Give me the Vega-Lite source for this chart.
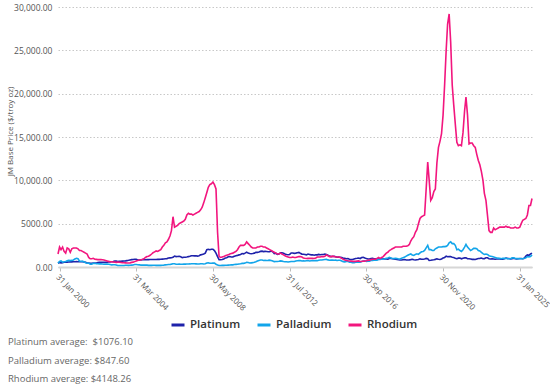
{
"$schema": "https://vega.github.io/schema/vega-lite/v6.json",
"width": 474,
"height": 260,
"autosize": {"type": "none"},
"padding": {"left": 58, "top": 7, "right": 18, "bottom": 123},
"config": {"font": "Open Sans", "view": {"stroke": null}},
"data": {"values": [
{"d":"2000-01","Platinum":440,"Palladium":450,"Rhodium":1500},
{"d":"2000-02","Platinum":520,"Palladium":650,"Rhodium":2300},
{"d":"2000-03","Platinum":480,"Palladium":700,"Rhodium":2000},
{"d":"2000-04","Platinum":500,"Palladium":570,"Rhodium":2300},
{"d":"2000-05","Platinum":540,"Palladium":600,"Rhodium":1800},
{"d":"2000-06","Platinum":560,"Palladium":640,"Rhodium":1600},
{"d":"2000-07","Platinum":560,"Palladium":720,"Rhodium":2200},
{"d":"2000-08","Platinum":570,"Palladium":760,"Rhodium":2100},
{"d":"2000-09","Platinum":590,"Palladium":740,"Rhodium":1700},
{"d":"2000-10","Platinum":590,"Palladium":760,"Rhodium":2100},
{"d":"2000-11","Platinum":600,"Palladium":820,"Rhodium":2200},
{"d":"2000-12","Platinum":610,"Palladium":920,"Rhodium":2200},
{"d":"2001-01","Platinum":620,"Palladium":1000,"Rhodium":2200},
{"d":"2001-02","Platinum":600,"Palladium":950,"Rhodium":2100},
{"d":"2001-03","Platinum":600,"Palladium":700,"Rhodium":1900},
{"d":"2001-04","Platinum":600,"Palladium":660,"Rhodium":1900},
{"d":"2001-05","Platinum":620,"Palladium":650,"Rhodium":1800},
{"d":"2001-06","Platinum":580,"Palladium":600,"Rhodium":1700},
{"d":"2001-07","Platinum":540,"Palladium":500,"Rhodium":1600},
{"d":"2001-08","Platinum":460,"Palladium":440,"Rhodium":1500},
{"d":"2001-09","Platinum":450,"Palladium":450,"Rhodium":1100},
{"d":"2001-10","Platinum":440,"Palladium":320,"Rhodium":950},
{"d":"2001-11","Platinum":430,"Palladium":330,"Rhodium":950},
{"d":"2001-12","Platinum":460,"Palladium":420,"Rhodium":1000},
{"d":"2002-01","Platinum":470,"Palladium":430,"Rhodium":900},
{"d":"2002-02","Platinum":470,"Palladium":380,"Rhodium":880},
{"d":"2002-03","Platinum":510,"Palladium":380,"Rhodium":850},
{"d":"2002-04","Platinum":540,"Palladium":360,"Rhodium":860},
{"d":"2002-05","Platinum":530,"Palladium":370,"Rhodium":850},
{"d":"2002-06","Platinum":540,"Palladium":340,"Rhodium":830},
{"d":"2002-07","Platinum":530,"Palladium":320,"Rhodium":800},
{"d":"2002-08","Platinum":540,"Palladium":330,"Rhodium":750},
{"d":"2002-09","Platinum":540,"Palladium":330,"Rhodium":700},
{"d":"2002-10","Platinum":570,"Palladium":320,"Rhodium":650},
{"d":"2002-11","Platinum":590,"Palladium":280,"Rhodium":620},
{"d":"2002-12","Platinum":600,"Palladium":240,"Rhodium":600},
{"d":"2003-01","Platinum":620,"Palladium":260,"Rhodium":570},
{"d":"2003-02","Platinum":680,"Palladium":260,"Rhodium":560},
{"d":"2003-03","Platinum":680,"Palladium":240,"Rhodium":540},
{"d":"2003-04","Platinum":630,"Palladium":170,"Rhodium":560},
{"d":"2003-05","Platinum":650,"Palladium":170,"Rhodium":540},
{"d":"2003-06","Platinum":660,"Palladium":170,"Rhodium":520},
{"d":"2003-07","Platinum":680,"Palladium":170,"Rhodium":500},
{"d":"2003-08","Platinum":700,"Palladium":180,"Rhodium":490},
{"d":"2003-09","Platinum":710,"Palladium":200,"Rhodium":480},
{"d":"2003-10","Platinum":740,"Palladium":200,"Rhodium":460},
{"d":"2003-11","Platinum":770,"Palladium":190,"Rhodium":470},
{"d":"2003-12","Platinum":810,"Palladium":200,"Rhodium":480},
{"d":"2004-01","Platinum":850,"Palladium":220,"Rhodium":530},
{"d":"2004-02","Platinum":860,"Palladium":230,"Rhodium":560},
{"d":"2004-03","Platinum":900,"Palladium":280,"Rhodium":620},
{"d":"2004-04","Platinum":900,"Palladium":290,"Rhodium":700},
{"d":"2004-05","Platinum":800,"Palladium":260,"Rhodium":760},
{"d":"2004-06","Platinum":800,"Palladium":250,"Rhodium":800},
{"d":"2004-07","Platinum":800,"Palladium":220,"Rhodium":800},
{"d":"2004-08","Platinum":850,"Palladium":220,"Rhodium":880},
{"d":"2004-09","Platinum":840,"Palladium":220,"Rhodium":950},
{"d":"2004-10","Platinum":840,"Palladium":220,"Rhodium":1100},
{"d":"2004-11","Platinum":850,"Palladium":220,"Rhodium":1200},
{"d":"2004-12","Platinum":850,"Palladium":185,"Rhodium":1250},
{"d":"2005-01","Platinum":860,"Palladium":185,"Rhodium":1350},
{"d":"2005-02","Platinum":870,"Palladium":185,"Rhodium":1500},
{"d":"2005-03","Platinum":870,"Palladium":200,"Rhodium":1650},
{"d":"2005-04","Platinum":870,"Palladium":200,"Rhodium":1750},
{"d":"2005-05","Platinum":870,"Palladium":190,"Rhodium":1850},
{"d":"2005-06","Platinum":880,"Palladium":185,"Rhodium":1800},
{"d":"2005-07","Platinum":880,"Palladium":185,"Rhodium":1900},
{"d":"2005-08","Platinum":890,"Palladium":185,"Rhodium":2000},
{"d":"2005-09","Platinum":910,"Palladium":195,"Rhodium":2300},
{"d":"2005-10","Platinum":930,"Palladium":215,"Rhodium":2500},
{"d":"2005-11","Platinum":960,"Palladium":250,"Rhodium":2800},
{"d":"2005-12","Platinum":970,"Palladium":260,"Rhodium":2900},
{"d":"2006-01","Platinum":1030,"Palladium":280,"Rhodium":3200},
{"d":"2006-02","Platinum":1050,"Palladium":290,"Rhodium":3600},
{"d":"2006-03","Platinum":1060,"Palladium":330,"Rhodium":4200},
{"d":"2006-04","Platinum":1110,"Palladium":380,"Rhodium":5800},
{"d":"2006-05","Platinum":1260,"Palladium":380,"Rhodium":4600},
{"d":"2006-06","Platinum":1200,"Palladium":320,"Rhodium":4700},
{"d":"2006-07","Platinum":1220,"Palladium":320,"Rhodium":4800},
{"d":"2006-08","Platinum":1230,"Palladium":340,"Rhodium":5000},
{"d":"2006-09","Platinum":1180,"Palladium":320,"Rhodium":5100},
{"d":"2006-10","Platinum":1080,"Palladium":320,"Rhodium":5200},
{"d":"2006-11","Platinum":1130,"Palladium":330,"Rhodium":5300},
{"d":"2006-12","Platinum":1130,"Palladium":330,"Rhodium":5500},
{"d":"2007-01","Platinum":1150,"Palladium":340,"Rhodium":6000},
{"d":"2007-02","Platinum":1200,"Palladium":350,"Rhodium":6200},
{"d":"2007-03","Platinum":1240,"Palladium":355,"Rhodium":6100},
{"d":"2007-04","Platinum":1300,"Palladium":375,"Rhodium":6100},
{"d":"2007-05","Platinum":1300,"Palladium":370,"Rhodium":6000},
{"d":"2007-06","Platinum":1280,"Palladium":370,"Rhodium":6100},
{"d":"2007-07","Platinum":1300,"Palladium":360,"Rhodium":6200},
{"d":"2007-08","Platinum":1260,"Palladium":340,"Rhodium":6300},
{"d":"2007-09","Platinum":1300,"Palladium":340,"Rhodium":6400},
{"d":"2007-10","Platinum":1400,"Palladium":370,"Rhodium":6600},
{"d":"2007-11","Platinum":1450,"Palladium":370,"Rhodium":6900},
{"d":"2007-12","Platinum":1500,"Palladium":350,"Rhodium":7400},
{"d":"2008-01","Platinum":1600,"Palladium":370,"Rhodium":8000},
{"d":"2008-02","Platinum":2000,"Palladium":460,"Rhodium":8600},
{"d":"2008-03","Platinum":2050,"Palladium":480,"Rhodium":9200},
{"d":"2008-04","Platinum":2000,"Palladium":440,"Rhodium":9500},
{"d":"2008-05","Platinum":2050,"Palladium":440,"Rhodium":9600},
{"d":"2008-06","Platinum":2050,"Palladium":460,"Rhodium":9800},
{"d":"2008-07","Platinum":1900,"Palladium":450,"Rhodium":9500},
{"d":"2008-08","Platinum":1600,"Palladium":320,"Rhodium":9000},
{"d":"2008-09","Platinum":1200,"Palladium":230,"Rhodium":4000},
{"d":"2008-10","Platinum":850,"Palladium":190,"Rhodium":1200},
{"d":"2008-11","Platinum":840,"Palladium":180,"Rhodium":1100},
{"d":"2008-12","Platinum":860,"Palladium":190,"Rhodium":1150},
{"d":"2009-01","Platinum":930,"Palladium":190,"Rhodium":1200},
{"d":"2009-02","Platinum":1030,"Palladium":200,"Rhodium":1300},
{"d":"2009-03","Platinum":1080,"Palladium":210,"Rhodium":1350},
{"d":"2009-04","Platinum":1180,"Palladium":220,"Rhodium":1400},
{"d":"2009-05","Platinum":1200,"Palladium":230,"Rhodium":1500},
{"d":"2009-06","Platinum":1150,"Palladium":250,"Rhodium":1550},
{"d":"2009-07","Platinum":1170,"Palladium":250,"Rhodium":1600},
{"d":"2009-08","Platinum":1240,"Palladium":280,"Rhodium":1700},
{"d":"2009-09","Platinum":1300,"Palladium":300,"Rhodium":1800},
{"d":"2009-10","Platinum":1340,"Palladium":320,"Rhodium":2000},
{"d":"2009-11","Platinum":1400,"Palladium":350,"Rhodium":2300},
{"d":"2009-12","Platinum":1450,"Palladium":380,"Rhodium":2500},
{"d":"2010-01","Platinum":1550,"Palladium":420,"Rhodium":2500},
{"d":"2010-02","Platinum":1520,"Palladium":420,"Rhodium":2500},
{"d":"2010-03","Platinum":1600,"Palladium":450,"Rhodium":2600},
{"d":"2010-04","Platinum":1720,"Palladium":540,"Rhodium":2900},
{"d":"2010-05","Platinum":1600,"Palladium":510,"Rhodium":2700},
{"d":"2010-06","Platinum":1550,"Palladium":460,"Rhodium":2500},
{"d":"2010-07","Platinum":1530,"Palladium":480,"Rhodium":2300},
{"d":"2010-08","Platinum":1550,"Palladium":500,"Rhodium":2200},
{"d":"2010-09","Platinum":1600,"Palladium":540,"Rhodium":2200},
{"d":"2010-10","Platinum":1690,"Palladium":600,"Rhodium":2200},
{"d":"2010-11","Platinum":1690,"Palladium":690,"Rhodium":2300},
{"d":"2010-12","Platinum":1730,"Palladium":750,"Rhodium":2300},
{"d":"2011-01","Platinum":1800,"Palladium":800,"Rhodium":2400},
{"d":"2011-02","Platinum":1830,"Palladium":810,"Rhodium":2400},
{"d":"2011-03","Platinum":1780,"Palladium":750,"Rhodium":2300},
{"d":"2011-04","Platinum":1800,"Palladium":760,"Rhodium":2300},
{"d":"2011-05","Platinum":1780,"Palladium":750,"Rhodium":2200},
{"d":"2011-06","Platinum":1760,"Palladium":760,"Rhodium":2100},
{"d":"2011-07","Platinum":1760,"Palladium":790,"Rhodium":2000},
{"d":"2011-08","Platinum":1850,"Palladium":760,"Rhodium":1900},
{"d":"2011-09","Platinum":1750,"Palladium":700,"Rhodium":1800},
{"d":"2011-10","Platinum":1550,"Palladium":620,"Rhodium":1700},
{"d":"2011-11","Platinum":1600,"Palladium":630,"Rhodium":1600},
{"d":"2011-12","Platinum":1450,"Palladium":640,"Rhodium":1500},
{"d":"2012-01","Platinum":1500,"Palladium":660,"Rhodium":1500},
{"d":"2012-02","Platinum":1650,"Palladium":700,"Rhodium":1600},
{"d":"2012-03","Platinum":1650,"Palladium":680,"Rhodium":1500},
{"d":"2012-04","Platinum":1580,"Palladium":630,"Rhodium":1400},
{"d":"2012-05","Platinum":1500,"Palladium":610,"Rhodium":1300},
{"d":"2012-06","Platinum":1450,"Palladium":610,"Rhodium":1200},
{"d":"2012-07","Platinum":1420,"Palladium":580,"Rhodium":1150},
{"d":"2012-08","Platinum":1450,"Palladium":610,"Rhodium":1100},
{"d":"2012-09","Platinum":1620,"Palladium":640,"Rhodium":1100},
{"d":"2012-10","Platinum":1620,"Palladium":630,"Rhodium":1150},
{"d":"2012-11","Platinum":1570,"Palladium":630,"Rhodium":1100},
{"d":"2012-12","Platinum":1600,"Palladium":690,"Rhodium":1100},
{"d":"2013-01","Platinum":1650,"Palladium":720,"Rhodium":1150},
{"d":"2013-02","Platinum":1680,"Palladium":740,"Rhodium":1200},
{"d":"2013-03","Platinum":1580,"Palladium":750,"Rhodium":1200},
{"d":"2013-04","Platinum":1490,"Palladium":700,"Rhodium":1150},
{"d":"2013-05","Platinum":1480,"Palladium":720,"Rhodium":1050},
{"d":"2013-06","Platinum":1450,"Palladium":700,"Rhodium":1000},
{"d":"2013-07","Platinum":1400,"Palladium":720,"Rhodium":980},
{"d":"2013-08","Platinum":1500,"Palladium":740,"Rhodium":1000},
{"d":"2013-09","Platinum":1450,"Palladium":700,"Rhodium":1000},
{"d":"2013-10","Platinum":1400,"Palladium":720,"Rhodium":1000},
{"d":"2013-11","Platinum":1420,"Palladium":730,"Rhodium":1000},
{"d":"2013-12","Platinum":1360,"Palladium":720,"Rhodium":980},
{"d":"2014-01","Platinum":1420,"Palladium":740,"Rhodium":1050},
{"d":"2014-02","Platinum":1400,"Palladium":730,"Rhodium":1150},
{"d":"2014-03","Platinum":1450,"Palladium":770,"Rhodium":1150},
{"d":"2014-04","Platinum":1420,"Palladium":800,"Rhodium":1150},
{"d":"2014-05","Platinum":1450,"Palladium":810,"Rhodium":1200},
{"d":"2014-06","Platinum":1450,"Palladium":840,"Rhodium":1200},
{"d":"2014-07","Platinum":1490,"Palladium":860,"Rhodium":1250},
{"d":"2014-08","Platinum":1430,"Palladium":880,"Rhodium":1400},
{"d":"2014-09","Platinum":1360,"Palladium":820,"Rhodium":1300},
{"d":"2014-10","Platinum":1260,"Palladium":780,"Rhodium":1200},
{"d":"2014-11","Platinum":1200,"Palladium":790,"Rhodium":1200},
{"d":"2014-12","Platinum":1210,"Palladium":800,"Rhodium":1250},
{"d":"2015-01","Platinum":1240,"Palladium":780,"Rhodium":1200},
{"d":"2015-02","Platinum":1190,"Palladium":790,"Rhodium":1150},
{"d":"2015-03","Platinum":1130,"Palladium":750,"Rhodium":1150},
{"d":"2015-04","Platinum":1150,"Palladium":780,"Rhodium":1150},
{"d":"2015-05","Platinum":1130,"Palladium":780,"Rhodium":1100},
{"d":"2015-06","Platinum":1090,"Palladium":700,"Rhodium":1000},
{"d":"2015-07","Platinum":1000,"Palladium":620,"Rhodium":900},
{"d":"2015-08","Platinum":990,"Palladium":590,"Rhodium":820},
{"d":"2015-09","Platinum":960,"Palladium":630,"Rhodium":750},
{"d":"2015-10","Platinum":980,"Palladium":670,"Rhodium":720},
{"d":"2015-11","Platinum":900,"Palladium":560,"Rhodium":700},
{"d":"2015-12","Platinum":860,"Palladium":550,"Rhodium":680},
{"d":"2016-01","Platinum":860,"Palladium":490,"Rhodium":650},
{"d":"2016-02","Platinum":920,"Palladium":490,"Rhodium":650},
{"d":"2016-03","Platinum":980,"Palladium":560,"Rhodium":650},
{"d":"2016-04","Platinum":1000,"Palladium":560,"Rhodium":680},
{"d":"2016-05","Platinum":1040,"Palladium":570,"Rhodium":700},
{"d":"2016-06","Platinum":980,"Palladium":560,"Rhodium":640},
{"d":"2016-07","Platinum":1090,"Palladium":630,"Rhodium":650},
{"d":"2016-08","Platinum":1120,"Palladium":690,"Rhodium":690},
{"d":"2016-09","Platinum":1040,"Palladium":710,"Rhodium":680},
{"d":"2016-10","Platinum":980,"Palladium":650,"Rhodium":720},
{"d":"2016-11","Platinum":930,"Palladium":680,"Rhodium":770},
{"d":"2016-12","Platinum":920,"Palladium":670,"Rhodium":780},
{"d":"2017-01","Platinum":970,"Palladium":750,"Rhodium":850},
{"d":"2017-02","Platinum":1010,"Palladium":770,"Rhodium":900},
{"d":"2017-03","Platinum":960,"Palladium":780,"Rhodium":900},
{"d":"2017-04","Platinum":950,"Palladium":800,"Rhodium":900},
{"d":"2017-05","Platinum":930,"Palladium":780,"Rhodium":1000},
{"d":"2017-06","Platinum":930,"Palladium":860,"Rhodium":1100},
{"d":"2017-07","Platinum":920,"Palladium":870,"Rhodium":1000},
{"d":"2017-08","Platinum":980,"Palladium":930,"Rhodium":1100},
{"d":"2017-09","Platinum":950,"Palladium":930,"Rhodium":1200},
{"d":"2017-10","Platinum":920,"Palladium":960,"Rhodium":1400},
{"d":"2017-11","Platinum":930,"Palladium":1000,"Rhodium":1600},
{"d":"2017-12","Platinum":910,"Palladium":1030,"Rhodium":1700},
{"d":"2018-01","Platinum":990,"Palladium":1100,"Rhodium":1900},
{"d":"2018-02","Platinum":990,"Palladium":1030,"Rhodium":2000},
{"d":"2018-03","Platinum":960,"Palladium":980,"Rhodium":2100},
{"d":"2018-04","Platinum":930,"Palladium":980,"Rhodium":2200},
{"d":"2018-05","Platinum":900,"Palladium":990,"Rhodium":2300},
{"d":"2018-06","Platinum":880,"Palladium":980,"Rhodium":2300},
{"d":"2018-07","Platinum":830,"Palladium":920,"Rhodium":2300},
{"d":"2018-08","Platinum":800,"Palladium":920,"Rhodium":2300},
{"d":"2018-09","Platinum":800,"Palladium":1000,"Rhodium":2300},
{"d":"2018-10","Platinum":830,"Palladium":1080,"Rhodium":2400},
{"d":"2018-11","Platinum":860,"Palladium":1140,"Rhodium":2400},
{"d":"2018-12","Platinum":800,"Palladium":1250,"Rhodium":2400},
{"d":"2019-01","Platinum":810,"Palladium":1350,"Rhodium":2450},
{"d":"2019-02","Platinum":820,"Palladium":1450,"Rhodium":2600},
{"d":"2019-03","Platinum":850,"Palladium":1500,"Rhodium":3000},
{"d":"2019-04","Platinum":890,"Palladium":1380,"Rhodium":3300},
{"d":"2019-05","Platinum":840,"Palladium":1330,"Rhodium":3500},
{"d":"2019-06","Platinum":810,"Palladium":1450,"Rhodium":4000},
{"d":"2019-07","Platinum":840,"Palladium":1520,"Rhodium":4300},
{"d":"2019-08","Platinum":860,"Palladium":1450,"Rhodium":5000},
{"d":"2019-09","Platinum":940,"Palladium":1620,"Rhodium":5600},
{"d":"2019-10","Platinum":900,"Palladium":1750,"Rhodium":5800},
{"d":"2019-11","Platinum":900,"Palladium":1800,"Rhodium":5900},
{"d":"2019-12","Platinum":930,"Palladium":1900,"Rhodium":6000},
{"d":"2020-01","Platinum":990,"Palladium":2200,"Rhodium":9000},
{"d":"2020-02","Platinum":960,"Palladium":2500,"Rhodium":12100},
{"d":"2020-03","Platinum":750,"Palladium":2000,"Rhodium":10000},
{"d":"2020-04","Platinum":770,"Palladium":2000,"Rhodium":7700},
{"d":"2020-05","Platinum":810,"Palladium":1900,"Rhodium":8000},
{"d":"2020-06","Platinum":830,"Palladium":1900,"Rhodium":8700},
{"d":"2020-07","Platinum":880,"Palladium":2100,"Rhodium":9000},
{"d":"2020-08","Platinum":940,"Palladium":2200,"Rhodium":12000},
{"d":"2020-09","Platinum":900,"Palladium":2300,"Rhodium":13800},
{"d":"2020-10","Platinum":870,"Palladium":2300,"Rhodium":14500},
{"d":"2020-11","Platinum":930,"Palladium":2300,"Rhodium":15400},
{"d":"2020-12","Platinum":1030,"Palladium":2350,"Rhodium":17500},
{"d":"2021-01","Platinum":1100,"Palladium":2350,"Rhodium":21000},
{"d":"2021-02","Platinum":1250,"Palladium":2380,"Rhodium":25000},
{"d":"2021-03","Platinum":1180,"Palladium":2500,"Rhodium":28000},
{"d":"2021-04","Platinum":1200,"Palladium":2800,"Rhodium":29200},
{"d":"2021-05","Platinum":1200,"Palladium":2900,"Rhodium":26000},
{"d":"2021-06","Platinum":1130,"Palladium":2700,"Rhodium":21000},
{"d":"2021-07","Platinum":1100,"Palladium":2700,"Rhodium":18700},
{"d":"2021-08","Platinum":1000,"Palladium":2500,"Rhodium":16500},
{"d":"2021-09","Platinum":960,"Palladium":2000,"Rhodium":14400},
{"d":"2021-10","Platinum":1020,"Palladium":2050,"Rhodium":14000},
{"d":"2021-11","Platinum":1030,"Palladium":1900,"Rhodium":14100},
{"d":"2021-12","Platinum":950,"Palladium":1800,"Rhodium":14000},
{"d":"2022-01","Platinum":1020,"Palladium":2000,"Rhodium":15500},
{"d":"2022-02","Platinum":1050,"Palladium":2300,"Rhodium":18000},
{"d":"2022-03","Platinum":1050,"Palladium":2600,"Rhodium":19600},
{"d":"2022-04","Platinum":950,"Palladium":2300,"Rhodium":17500},
{"d":"2022-05","Platinum":950,"Palladium":2100,"Rhodium":14200},
{"d":"2022-06","Platinum":930,"Palladium":1900,"Rhodium":14300},
{"d":"2022-07","Platinum":880,"Palladium":2000,"Rhodium":14300},
{"d":"2022-08","Platinum":900,"Palladium":2150,"Rhodium":14000},
{"d":"2022-09","Platinum":870,"Palladium":2150,"Rhodium":13800},
{"d":"2022-10","Platinum":930,"Palladium":2100,"Rhodium":13000},
{"d":"2022-11","Platinum":990,"Palladium":1900,"Rhodium":12300},
{"d":"2022-12","Platinum":1000,"Palladium":1850,"Rhodium":11800},
{"d":"2023-01","Platinum":1030,"Palladium":1700,"Rhodium":11000},
{"d":"2023-02","Platinum":960,"Palladium":1550,"Rhodium":10000},
{"d":"2023-03","Platinum":970,"Palladium":1450,"Rhodium":8500},
{"d":"2023-04","Platinum":1070,"Palladium":1500,"Rhodium":7700},
{"d":"2023-05","Platinum":1060,"Palladium":1450,"Rhodium":6000},
{"d":"2023-06","Platinum":960,"Palladium":1300,"Rhodium":4200},
{"d":"2023-07","Platinum":930,"Palladium":1250,"Rhodium":4000},
{"d":"2023-08","Platinum":950,"Palladium":1200,"Rhodium":4000},
{"d":"2023-09","Platinum":930,"Palladium":1150,"Rhodium":4500},
{"d":"2023-10","Platinum":900,"Palladium":1100,"Rhodium":4300},
{"d":"2023-11","Platinum":930,"Palladium":1050,"Rhodium":4400},
{"d":"2023-12","Platinum":960,"Palladium":1000,"Rhodium":4500},
{"d":"2024-01","Platinum":920,"Palladium":1000,"Rhodium":4600},
{"d":"2024-02","Platinum":900,"Palladium":950,"Rhodium":4600},
{"d":"2024-03","Platinum":910,"Palladium":1000,"Rhodium":4600},
{"d":"2024-04","Platinum":940,"Palladium":1000,"Rhodium":4600},
{"d":"2024-05","Platinum":1030,"Palladium":1000,"Rhodium":4700},
{"d":"2024-06","Platinum":1000,"Palladium":950,"Rhodium":4600},
{"d":"2024-07","Platinum":990,"Palladium":950,"Rhodium":4600},
{"d":"2024-08","Platinum":930,"Palladium":950,"Rhodium":4500},
{"d":"2024-09","Platinum":960,"Palladium":1050,"Rhodium":4500},
{"d":"2024-10","Platinum":1000,"Palladium":1050,"Rhodium":4500},
{"d":"2024-11","Platinum":950,"Palladium":1000,"Rhodium":4600},
{"d":"2024-12","Platinum":930,"Palladium":970,"Rhodium":4500},
{"d":"2025-01","Platinum":950,"Palladium":970,"Rhodium":4500},
{"d":"2025-02","Platinum":980,"Palladium":960,"Rhodium":4600},
{"d":"2025-03","Platinum":980,"Palladium":960,"Rhodium":5000},
{"d":"2025-04","Platinum":960,"Palladium":950,"Rhodium":5400},
{"d":"2025-05","Platinum":1000,"Palladium":1000,"Rhodium":5500},
{"d":"2025-06","Platinum":1250,"Palladium":1050,"Rhodium":5600},
{"d":"2025-07","Platinum":1400,"Palladium":1200,"Rhodium":6000},
{"d":"2025-08","Platinum":1350,"Palladium":1150,"Rhodium":7100},
{"d":"2025-09","Platinum":1500,"Palladium":1200,"Rhodium":7100},
{"d":"2025-10","Platinum":1600,"Palladium":1400,"Rhodium":7900}
]},
"transform": [{"fold": ["Platinum", "Palladium", "Rhodium"], "as": ["metal", "price"]}],
"mark": {"type": "line", "strokeWidth": 1.6},
"encoding": {
  "x": {
    "field": "d", "type": "temporal",
    "scale": {"type": "utc", "nice": false},
    "axis": {
      "values": [
        {"year": 2000, "month": 1, "date": 31, "utc": true},
        {"year": 2004, "month": 3, "date": 31, "utc": true},
        {"year": 2008, "month": 5, "date": 30, "utc": true},
        {"year": 2012, "month": 7, "date": 31, "utc": true},
        {"year": 2016, "month": 9, "date": 30, "utc": true},
        {"year": 2020, "month": 11, "date": 30, "utc": true},
        {"year": 2025, "month": 1, "date": 31, "utc": true}
      ],
      "labelExpr": "utcFormat(datum.value, '%d %b %Y')",
      "labelAngle": 45,
      "labelAlign": "left",
      "labelBaseline": "top",
      "labelFontSize": 8,
      "labelColor": "#555555",
      "labelPadding": 2,
      "labelOverlap": false,
      "labelFlush": false,
      "grid": false,
      "domainColor": "#d6d6d6",
      "domainWidth": 2,
      "tickColor": "#bbbbbb",
      "tickSize": 4,
      "title": null
    }
  },
  "y": {
    "field": "price", "type": "quantitative",
    "scale": {"domain": [0, 30000]},
    "axis": {
      "values": [0, 5000, 10000, 15000, 20000, 25000, 30000],
      "labelExpr": "datum.value < 10000 ? format(datum.value, '.2f') : format(datum.value, ',.2f')",
      "labelFontSize": 8.5,
      "labelColor": "#555555",
      "labelPadding": 6,
      "domain": false,
      "ticks": false,
      "gridDash": [1.5, 2],
      "gridColor": "#c8c8c8",
      "title": "JM Base Price ($/troy oz)",
      "titleFontSize": 8,
      "titleFontWeight": "normal",
      "titleColor": "#555555",
      "titleX": -48,
      "titleY": 124,
      "titleAngle": -90,
      "titleAlign": "center",
      "titleBaseline": "middle"
    }
  },
  "color": {
    "field": "metal", "type": "nominal",
    "scale": {"domain": ["Platinum", "Palladium", "Rhodium"], "range": ["#1e22aa", "#12a5ea", "#f2167e"]},
    "legend": {
      "title": null,
      "orient": "none",
      "direction": "horizontal",
      "legendX": 112,
      "legendY": 310,
      "symbolType": "stroke",
      "symbolSize": 169,
      "symbolStrokeWidth": 3,
      "labelFontSize": 11.5,
      "labelFontWeight": 600,
      "labelColor": "#333333",
      "labelOffset": 4,
      "columnPadding": 10,
      "padding": 0
    }
  }
},
"title": {
  "text": ["Platinum average: \u00a0$1076.10", "Palladium average: $847.60", "Rhodium average: $4148.26"],
  "orient": "bottom",
  "anchor": "start",
  "frame": "bounds",
  "dx": 2,
  "fontSize": 9.5,
  "fontWeight": "normal",
  "color": "#666666",
  "lineHeight": 18.7,
  "baseline": "top",
  "offset": 6
}
}
